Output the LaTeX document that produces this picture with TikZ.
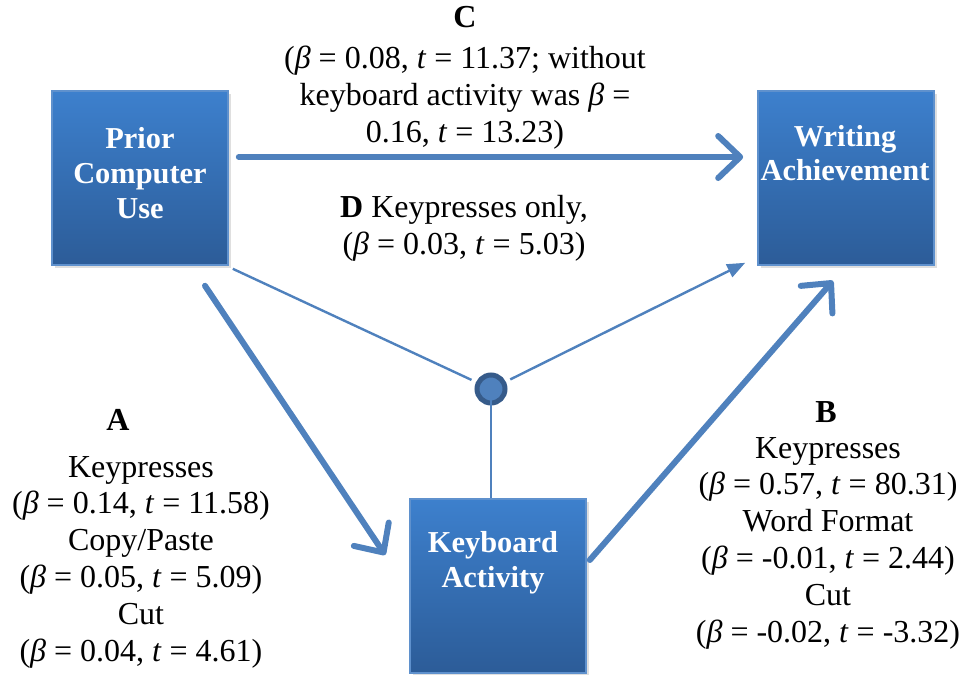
\documentclass[tikz,border=0pt]{standalone}
\usepackage{fontspec}
\setmainfont{Liberation Serif}
\usetikzlibrary{arrows.meta,shadows}
\definecolor{boxtop}{RGB}{61,128,205}
\definecolor{boxbot}{RGB}{44,92,152}
\definecolor{boxedge}{RGB}{95,145,205}
\definecolor{linkblue}{RGB}{79,129,189}
\definecolor{ringblue}{RGB}{54,91,138}
\begin{document}
\begin{tikzpicture}[x=0.5pt,y=-0.5pt,
  varbox/.style={draw=boxedge, line width=0.8pt, top color=boxtop, bottom color=boxbot,
    minimum width=88pt, minimum height=87pt, inner sep=0pt,
    drop shadow={opacity=0.25, shadow xshift=1.5pt, shadow yshift=-1.5pt}},
  boxtext/.style={text=white, align=center, inner sep=0pt,
    font=\fontsize{15.2}{17.3}\selectfont\bfseries},
  lbl/.style={align=center, inner sep=0pt, font=\fontsize{16}{18.4}\selectfont},
  bigarrow/.style={draw=linkblue, line width=3pt, line cap=round,
    -{Straight Barb[length=11pt,width=21pt,line cap=round,line join=round]}},
  thinlink/.style={draw=linkblue, line width=1.2pt},
  thinarrow/.style={thinlink, -{Triangle[length=9pt,width=7pt]}}]
\useasboundingbox (0,0) rectangle (965,675);

% variable boxes
\node[varbox] (pcu) at (140,178) {};
\node[varbox] (wa)  at (846,178) {};
\node[varbox] (kb)  at (498,586) {};
\node[boxtext] (pcut) at (140,173) {Prior\\Computer\\Use};
\node[boxtext] (wat)  at (845,153) {Writing\\Achievement};
\node[boxtext] (kbt)  at (493,563) {Keyboard\\Activity};

% junction of the keypress mediation path
\node[circle, minimum size=14pt, inner sep=0pt, draw=ringblue, line width=2.5pt,
  fill=linkblue] (hub) at (491,389) {};

% thin mediation lines
\draw[thinlink, shorten >=2.5pt] ([shift={(4,3)}]pcu.south east) -- (hub);
\draw[thinarrow, shorten <=2.5pt] (hub) -- ([shift={(-12,-3)}]wa.south west);
\draw[thinlink] (hub.center) -- (hub.center |- kb.north);

% main paths
\draw[bigarrow] ([shift={(10,-21)}]pcu.east) -- ([shift={(-14,-21)}]wa.west);
\draw[bigarrow] ([shift={(65,20)}]pcu.south) -- ([shift={(-24,-31)}]kb.west);
\draw[bigarrow] ([shift={(3,-26)}]kb.east) -- ([shift={(-13,15)}]wa.south);

% path labels
\node[lbl] (labc) at (465,78) {\textbf{C}\\[2pt]
  (\textit{β} = 0.08, \textit{t} = 11.37; without\\
  keyboard activity was \textit{β} =\\
  0.16, \textit{t} = 13.23)};
\node[lbl] (labd) at (464,228) {\textbf{D} Keypresses only,\\
  (\textit{β} = 0.03, \textit{t} = 5.03)};
\node[lbl] (laba) at (118,420) {\textbf{A}};
\node[lbl] (labat) at (141,562) {Keypresses\\
  (\textit{β} = 0.14, \textit{t} = 11.58)\\
  Copy/Paste\\
  (\textit{β} = 0.05, \textit{t} = 5.09)\\
  Cut\\
  (\textit{β} = 0.04, \textit{t} = 4.61)};
\node[lbl] (labb) at (826,412) {\textbf{B}};
\node[lbl] (labbt) at (828,543) {Keypresses\\
  (\textit{β} = 0.57, \textit{t} = 80.31)\\
  Word Format\\
  (\textit{β} = -0.01, \textit{t} = 2.44)\\
  Cut\\
  (\textit{β} = -0.02, \textit{t} = -3.32)};
\end{tikzpicture}
\end{document}
